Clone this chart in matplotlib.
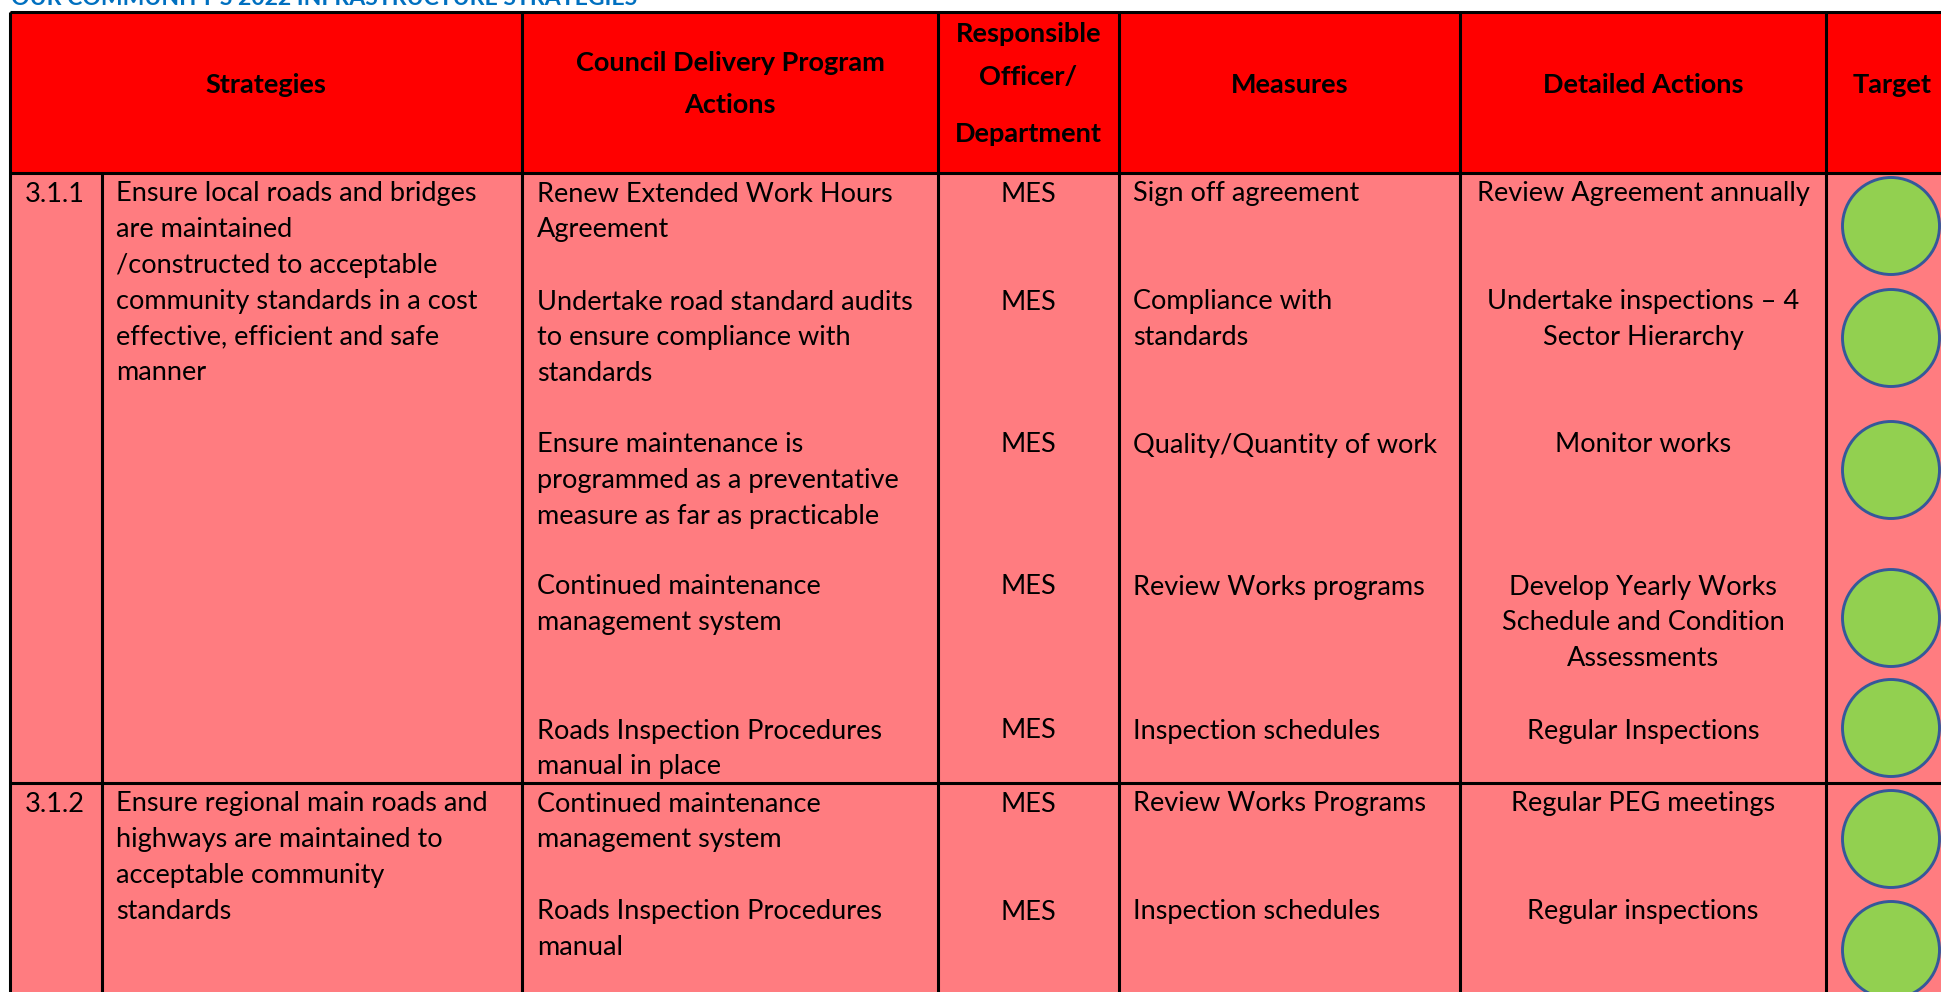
import matplotlib
matplotlib.use("Agg")
import matplotlib.pyplot as plt
from matplotlib.patches import Rectangle, Circle

plt.rcParams['font.family'] = ['Lato', 'DejaVu Sans']

# --- contenido de la tabla ---
title = "OUR COMMUNITY'S 2022 INFRASTRUCTURE STRATEGIES"

headers = ["Strategies", "Council Delivery Program\nActions",
           "Responsible\nOfficer/\nDepartment", "Measures",
           "Detailed Actions", "Target"]

strategy_ids = ["3.1.1", "3.1.2"]
strategies = [
    "Ensure local roads and bridges\nare maintained\n/constructed to acceptable\n"
    "community standards in a cost\neffective, efficient and safe\nmanner",
    "Ensure regional main roads and\nhighways are maintained to\n"
    "acceptable community\nstandards",
]

actions = [
    "Renew Extended Work Hours\nAgreement",
    "Undertake road standard audits\nto ensure compliance with\nstandards",
    "Ensure maintenance is\nprogrammed as a preventative\nmeasure as far as practicable",
    "Continued maintenance\nmanagement system",
    "Roads Inspection Procedures\nmanual in place",
    "Continued maintenance\nmanagement system",
    "Roads Inspection Procedures\nmanual",
]
action_strategy = [0, 0, 0, 0, 0, 1, 1]
officers = ["MES", "MES", "MES", "MES", "MES", "MES", "MES"]
measures = [
    "Sign off agreement",
    "Compliance with\nstandards",
    "Quality/Quantity of work",
    "Review Works programs",
    "Inspection schedules",
    "Review Works Programs",
    "Inspection schedules",
]
detailed = [
    "Review Agreement annually",
    "Undertake inspections \u2013 4\nSector Hierarchy",
    "Monitor works",
    "Develop Yearly Works\nSchedule and Condition\nAssessments",
    "Regular Inspections",
    "Regular PEG meetings",
    "Regular inspections",
]
# estado del objetivo (todos en verde)
target_status = ["on track"] * 7

# --- maquetacion (pixeles) ---
W, H = 1941, 992
col_x = [10, 102, 522, 938, 1119, 1460, 1826, 1958]
top_y, head_y, bottom_y = 12, 173, 1000
line_h = 35.8
dy = 2  # ajuste vertical del texto
row_y = [192, 300, 443, 585, 729, 802, 910]     # primera linea de cada accion
strat_y = [192, 802]
group_lines = [783]
circle_y = [226, 338, 470, 618, 728, 839, 950]
circle_r = 48.5

RED = "#FF0000"
PINK = "#FF7C80"
GREEN = "#92D050"
BLUE_EDGE = "#35589A"
TITLE_BLUE = "#0070C0"
FS = 19.5

fig = plt.figure(figsize=(W / 100, H / 100), dpi=100)
ax = fig.add_axes([0, 0, 1, 1])
ax.set_xlim(0, W)
ax.set_ylim(H, 0)
ax.axis('off')

# fondos
ax.add_patch(Rectangle((col_x[0], top_y), col_x[-1] - col_x[0], head_y - top_y,
                       facecolor=RED, edgecolor='none'))
ax.add_patch(Rectangle((col_x[0], head_y), col_x[-1] - col_x[0], bottom_y - head_y,
                       facecolor=PINK, edgecolor='none'))

# lineas
lw = 2.2
for y in [top_y, head_y] + group_lines:
    ax.plot([col_x[0], col_x[-1]], [y, y], color='black', lw=lw, solid_capstyle='butt')
for i, x in enumerate(col_x[:-1]):
    y0 = head_y if i == 1 else top_y
    ax.plot([x, x], [y0, bottom_y], color='black', lw=lw, solid_capstyle='butt')

# titulo (cortado arriba, como en el original)
ax.text(col_x[0] + 1, 5, title, color=TITLE_BLUE, fontsize=16.6, fontweight='bold',
        ha='left', va='baseline')


def draw_lines(x, y, txt, ha='left', step=line_h, **kw):
    for k, ln in enumerate(txt.split("\n")):
        ax.text(x, y + dy + k * step, ln, ha=ha, va='center', fontsize=FS,
                color='black', **kw)


# encabezados
head_pos = [
    ((col_x[0] + col_x[2]) / 2, [83]),
    ((col_x[2] + col_x[3]) / 2, [61, 103]),
    ((col_x[3] + col_x[4]) / 2, [32, 75, 132]),
    ((col_x[4] + col_x[5]) / 2, [83]),
    ((col_x[5] + col_x[6]) / 2, [83]),
    (1892, [83]),
]
for txt, (x, ys) in zip(headers, head_pos):
    for ln, y in zip(txt.split("\n"), ys):
        ax.text(x, y + dy, ln, ha='center', va='center', fontsize=FS, fontweight='bold',
                color='black')

# estrategias
for sid, stxt, y in zip(strategy_ids, strategies, strat_y):
    draw_lines(25, y, sid)
    draw_lines(116, y, stxt)

# acciones
for i in range(len(actions)):
    y = row_y[i]
    draw_lines(537, y, actions[i])
    draw_lines((col_x[3] + col_x[4]) / 2, y, officers[i], ha='center')
    draw_lines(1133, y, measures[i])
    draw_lines((col_x[5] + col_x[6]) / 2, y, detailed[i], ha='center')
    if target_status[i] == "on track":
        ax.add_patch(Circle((1891, circle_y[i]), circle_r, facecolor=GREEN,
                            edgecolor=BLUE_EDGE, lw=2.1))

fig.savefig("out.png", dpi=100)
